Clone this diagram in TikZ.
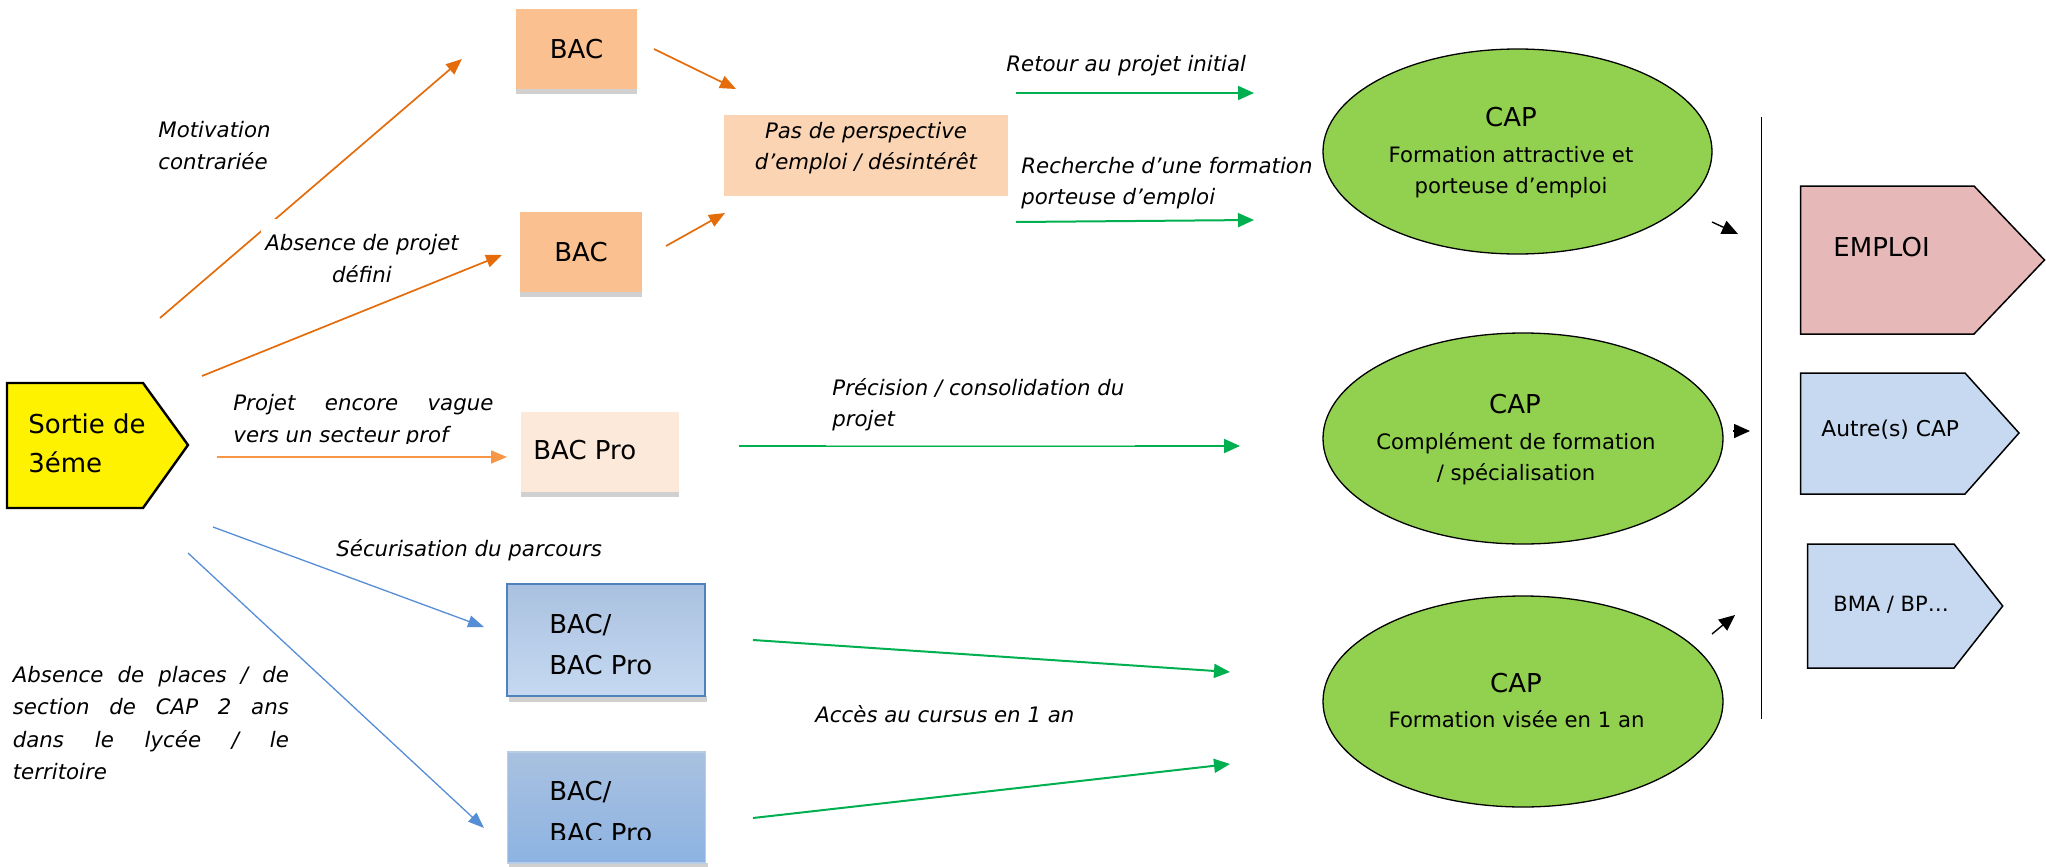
\documentclass[tikz,border=0pt]{standalone}
\usepackage{fontspec}
\setmainfont{DejaVu Sans}
\usetikzlibrary{arrows.meta,shapes.geometric}
\definecolor{orangeD}{HTML}{E46C0A}
\definecolor{orangeL}{HTML}{F79646}
\definecolor{greenA}{HTML}{00B050}
\definecolor{blueA}{HTML}{558ED5}
\definecolor{capgreen}{HTML}{92D050}
\definecolor{bacfill}{HTML}{FAC090}
\definecolor{pasfill}{HTML}{FBD4B4}
\definecolor{bacprofill}{HTML}{FDE9D9}
\definecolor{emploifill}{HTML}{E6B9B8}
\definecolor{autrefill}{HTML}{C6D9F1}
\definecolor{shadowgrey}{HTML}{D0D0D0}
\definecolor{blueBorder}{HTML}{4F81BD}
\definecolor{blueTop}{HTML}{A9C1E0}
\definecolor{blueBot}{HTML}{C6D9F1}
\definecolor{blueBotD}{HTML}{8DB3E2}
\tikzset{
  lbl/.style={font=\fontsize{10.65}{13}\selectfont\itshape, inner sep=0pt, anchor=base west},
  lblc/.style={font=\fontsize{10.65}{13}\selectfont\itshape, inner sep=0pt, anchor=base},
  bigtxt/.style={font=\fontsize{13}{15}\selectfont, inner sep=0pt},
  subtxt/.style={font=\fontsize{10.6}{13}\selectfont, inner sep=0pt, anchor=base},
  boxn/.style={rectangle, inner sep=0pt, font=\fontsize{13}{15}\selectfont},
  capell/.style={ellipse, draw=black, line width=0.65pt, fill=capgreen, inner sep=0pt},
  penta/.style={draw=black, line width=0.75pt},
  orarrow/.style={draw=orangeD, line width=0.85pt, -{Triangle[length=8pt,width=6.5pt]}},
  orlarrow/.style={draw=orangeL, line width=0.85pt, -{Triangle[length=8pt,width=6.5pt]}},
  grarrow/.style={draw=greenA, line width=1pt, -{Triangle[length=8pt,width=7pt]}},
  blarrow/.style={draw=blueA, line width=0.65pt, -{Triangle[length=8pt,width=6pt]}},
  bkarrow/.style={draw=black, line width=0.7pt, -{Triangle[length=8pt,width=7pt]}},
}
\begin{document}
\begin{tikzpicture}[x=0.5pt,y=-0.5pt]
\useasboundingbox (0,0) rectangle (2046,867);

% ---------- Sortie de 3eme ----------
\draw[fill=yellow, line width=1.2pt] (7,383) -- (143,383) -- (188,445) -- (143,508) -- (7,508) -- cycle;
\coordinate (sortie) at (97,445);
\node[bigtxt, anchor=base west] (s1) at (28,433) {Sortie de};
\node[bigtxt, anchor=base west] (s2) at (28,472) {3éme};

% ---------- BAC boxes ----------
\fill[shadowgrey] (516,89) rectangle (637,94);
\node[boxn, fill=bacfill, minimum width=60.5pt, minimum height=40pt] (bac1) at (576.5,49) {BAC};
\fill[shadowgrey] (520,292) rectangle (642,297);
\node[boxn, fill=bacfill, minimum width=61pt, minimum height=40pt] (bac2) at (581,252) {BAC};

\node[boxn, fill=pasfill, minimum width=142pt, minimum height=40.5pt] (pas) at (866,155.5) {};
\node[lblc] (pas1) at (866,138) {Pas de perspective};
\node[lblc] (pas2) at (866,169) {d’emploi / désintérêt};

\fill[shadowgrey] (521,492) rectangle (679,497);
\node[boxn, fill=bacprofill, minimum width=79pt, minimum height=40pt] (bacpro) at (600,452) {};
\node[bigtxt, anchor=west] (bacprot) at (533,450) {BAC Pro};

\fill[shadowgrey] (509,696) rectangle (707,702);
\node[boxn, top color=blueTop, bottom color=blueBot, draw=blueBorder, line width=0.75pt, minimum width=99pt, minimum height=56pt] (bb1) at (606,640) {};
\node[bigtxt, anchor=base west] (bb1a) at (549,633) {BAC/};
\node[bigtxt, anchor=base west] (bb1b) at (549,674) {BAC Pro};

\fill[shadowgrey] (509,863) rectangle (708,870);
\node[boxn, top color=blueTop, bottom color=blueBotD, draw=blueTop!80!white, line width=0.6pt, minimum width=99pt, minimum height=55.5pt] (bb2) at (606.5,807.5) {};
\node[bigtxt, anchor=base west] (bb2a) at (549,800) {BAC/};
\begin{scope}
\clip (500,700) rectangle (710,839);
\node[bigtxt, anchor=base west] (bb2b) at (549,842) {BAC Pro};
\end{scope}

% ---------- CAP ellipses ----------
\node[capell, minimum width=194.5pt, minimum height=102.5pt] (cap1) at (1517.5,151.5) {};
\node[bigtxt, anchor=base] (cap1a) at (1511,126) {CAP};
\node[subtxt] (cap1b) at (1511,162) {Formation attractive et};
\node[subtxt] (cap1c) at (1511,193) {porteuse d’emploi};

\node[capell, minimum width=200pt, minimum height=105.5pt] (cap2) at (1523,438.5) {};
\node[bigtxt, anchor=base] (cap2a) at (1515,413) {CAP};
\node[subtxt] (cap2b) at (1516,449) {Complément de formation};
\node[subtxt] (cap2c) at (1516,480) {/ spécialisation};

\node[capell, minimum width=200pt, minimum height=105.5pt] (cap3) at (1523,701.5) {};
\node[bigtxt, anchor=base] (cap3a) at (1516,692) {CAP};
\node[subtxt] (cap3b) at (1516.5,727) {Formation visée en 1 an};

% ---------- right column ----------
\coordinate (vtop) at (1761.5,117);
\coordinate (vbot) at (1761.5,719);
\draw[line width=0.65pt] (vtop) -- (vbot);

\draw[penta, fill=emploifill] (1800.5,186) -- (1974,186) -- (2044.5,260) -- (1974,334) -- (1800.5,334) -- cycle;
\node[bigtxt, anchor=base west] (emploi) at (1833,256) {EMPLOI};
\draw[penta, fill=autrefill] (1800.5,373) -- (1965,373) -- (2019,433) -- (1965,494) -- (1800.5,494) -- cycle;
\node[font=\fontsize{10.9}{13}\selectfont, inner sep=0pt, anchor=base west] (autre) at (1821,436) {Autre(s) CAP};
\draw[penta, fill=autrefill] (1807.6,544) -- (1954,544) -- (2002.7,606) -- (1954,668) -- (1807.6,668) -- cycle;
\node[font=\fontsize{10.5}{13}\selectfont, inner sep=0pt, anchor=base west] (bma) at (1833,611) {BMA / BP…};

% ---------- small black arrows ----------
\coordinate (k1s) at (1712,222); \coordinate (k1e) at (1738,234);
\coordinate (k2s) at (1733,431); \coordinate (k2e) at (1750,431);
\coordinate (k3s) at (1712,634); \coordinate (k3e) at (1735,615);
\draw[bkarrow] (k1s) -- (k1e);
\draw[bkarrow] (k2s) -- (k2e);
\draw[bkarrow] (k3s) -- (k3e);

% ---------- orange arrows ----------
\coordinate (o1s) at (160,318); \coordinate (o1e) at (462,59);
\coordinate (o2s) at (202,376); \coordinate (o2e) at (502,255);
\coordinate (o3s) at (654,49);  \coordinate (o3e) at (736,89);
\coordinate (o4s) at (666,246); \coordinate (o4e) at (725,213);
\coordinate (o5s) at (217,457); \coordinate (o5e) at (507,457);
\draw[orarrow] (o1s) -- (o1e);
\fill[white] (261,219) rectangle (463,292);
\node[lblc] (abs1) at (362,250) {Absence de projet};
\node[lblc] (abs2) at (362,282) {défini};
\draw[orarrow] (o2s) -- (o2e);
\draw[orarrow] (o3s) -- (o3e);
\draw[orarrow] (o4s) -- (o4e);
\draw[orlarrow] (o5s) -- (o5e);

% ---------- blue arrows ----------
\coordinate (b1s) at (213,527); \coordinate (b1e) at (484,627);
\coordinate (b2s) at (188,553); \coordinate (b2e) at (484,828);
\draw[blarrow] (b1s) -- (b1e);
\draw[blarrow] (b2s) -- (b2e);

% ---------- green arrows ----------
\coordinate (g1s) at (1016,93);  \coordinate (g1e) at (1254,93);
\coordinate (g2s) at (1016,222); \coordinate (g2e) at (1254,220);
\coordinate (g3s) at (739,446);  \coordinate (g3e) at (1240,446);
\coordinate (g4s) at (753,640);  \coordinate (g4e) at (1230,672);
\coordinate (g5s) at (753,818);  \coordinate (g5e) at (1230,764);
\draw[grarrow] (g1s) -- (g1e);
\draw[grarrow] (g2s) -- (g2e);
\draw[grarrow] (g3s) -- (g3e);
\fill[white, opacity=0.55] (826,372) rectangle (1135,446);
\draw[grarrow] (g4s) -- (g4e);
\draw[grarrow] (g5s) -- (g5e);

% ---------- labels ----------
\node[lbl] (mot1) at (158,137) {Motivation};
\node[lbl] (mot2) at (158,169) {contrariée};
\node[lbl] (proj1) at (233,410) {\makebox[130pt][s]{Projet encore vague}};
\begin{scope}
\clip (200,380) rectangle (520,443);
\node[lbl] (proj2) at (233,442) {vers un secteur prof};
\end{scope}
\node[lbl] (secu) at (336,556) {Sécurisation du parcours};
\node[lbl] (ap1) at (12.5,682) {\makebox[138pt][s]{Absence de places / de}};
\node[lbl] (ap2) at (12.5,714) {\makebox[138pt][s]{section de CAP 2 ans}};
\node[lbl] (ap3) at (12.5,747) {\makebox[138pt][s]{dans le lycée / le}};
\node[lbl] (ap4) at (12.5,779) {territoire};
\node[lbl] (ret) at (1006,71) {Retour au projet initial};
\node[lbl] (rech1) at (1021,173) {Recherche d’une formation};
\node[lbl] (rech2) at (1021,204) {porteuse d’emploi};
\node[lbl] (prec1) at (832,395) {Précision / consolidation du};
\node[lbl] (prec2) at (832,426) {projet};
\node[lbl] (acces) at (815,722) {Accès au cursus en 1 an};
\end{tikzpicture}
\end{document}
